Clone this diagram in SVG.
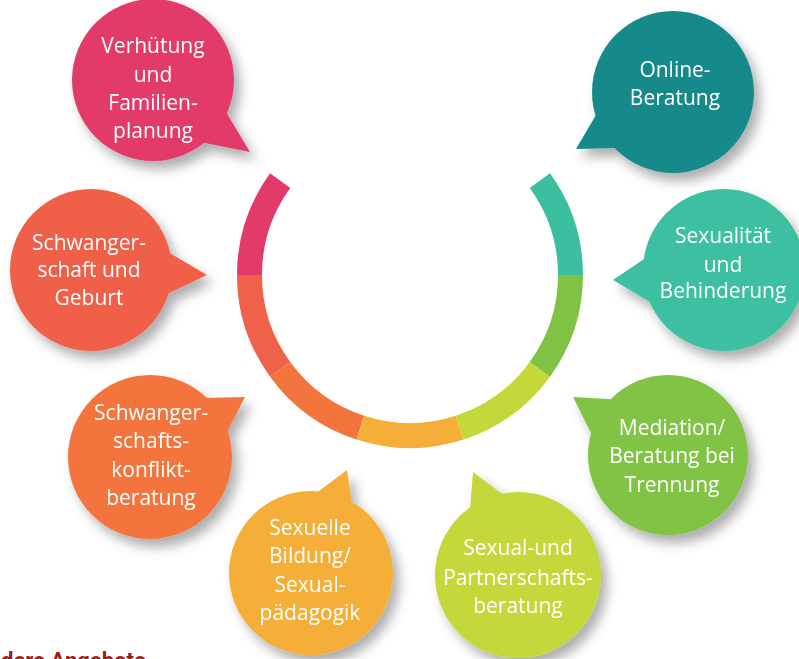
<svg xmlns="http://www.w3.org/2000/svg" width="799" height="659" viewBox="0 0 799 659">
<defs>
<filter id="sh" x="-30%" y="-30%" width="160%" height="160%">
<feDropShadow dx="6" dy="8" stdDeviation="6" flood-color="#000" flood-opacity="0.32"/>
</filter>
</defs>
<style>
.seg{fill:none;stroke-width:25;stroke-linecap:butt}
.b{filter:url(#sh)}
.t{font-family:"Open Sans","Noto Sans",sans-serif;font-size:21px;fill:#fff;text-anchor:middle}
.foot{font-family:Roboto,"Liberation Sans",sans-serif;font-weight:bold;font-size:22px;fill:#9B1B1E}
</style>
<rect width="799" height="659" fill="#fff"/>
<g id="ring">
<path class="seg" stroke="#E33B69" d="M249.5 275 A160.5 160.5 0 0 1 280.15 180.66"/>
<path class="seg" stroke="#F06149" d="M280.15 369.34 A160.5 160.5 0 0 1 249.5 275"/>
<path class="seg" stroke="#F3753E" d="M360.4 427.65 A160.5 160.5 0 0 1 280.15 369.34"/>
<path class="seg" stroke="#F5AF39" d="M459.6 427.65 A160.5 160.5 0 0 1 360.4 427.65"/>
<path class="seg" stroke="#C4D83A" d="M539.85 369.34 A160.5 160.5 0 0 1 459.6 427.65"/>
<path class="seg" stroke="#80C344" d="M570.5 275 A160.5 160.5 0 0 1 539.85 369.34"/>
<path class="seg" stroke="#3CBFA1" d="M539.85 180.66 A160.5 160.5 0 0 1 570.5 275"/>
</g>
<g id="connectors"></g>
<g id="n1" class="b" fill="#E33B69">
<circle cx="153" cy="80" r="81"/>
<polygon points="226,112 250,152 200,142"/>
<text class="t" x="153" y="53">Verhütung</text>
<text class="t" x="153" y="82">und</text>
<text class="t" x="153" y="110">Familien-</text>
<text class="t" x="153" y="138">planung</text>
</g>
<g id="n2" class="b" fill="#18898A">
<circle cx="673" cy="92" r="81"/>
<polygon points="596,115 576,149 615,148"/>
<text class="t" x="675" y="77">Online-</text>
<text class="t" x="675" y="105">Beratung</text>
</g>
<g id="n3" class="b" fill="#F06149">
<circle cx="91" cy="270" r="81"/>
<polygon points="168,252 207,275 165,295"/>
<text class="t" x="89" y="250">Schwanger-</text>
<text class="t" x="89" y="277">schaft und</text>
<text class="t" x="89" y="305">Geburt</text>
</g>
<g id="n4" class="b" fill="#3CBFA1">
<circle cx="724" cy="270" r="81"/>
<polygon points="650,255 613,280 655,305"/>
<text class="t" x="723" y="243">Sexualität</text>
<text class="t" x="723" y="272">und</text>
<text class="t" x="723" y="298">Behinderung</text>
</g>
<g id="n5" class="b" fill="#F3753E">
<circle cx="150" cy="457" r="82"/>
<polygon points="203,398 245,397 226,434"/>
<text class="t" x="151" y="420">Schwanger-</text>
<text class="t" x="151" y="448">schafts-</text>
<text class="t" x="151" y="477">konflikt-</text>
<text class="t" x="151" y="505">beratung</text>
</g>
<g id="n6" class="b" fill="#F5AF39">
<circle cx="311" cy="573" r="82"/>
<polygon points="315,494 347,470 352,505"/>
<text class="t" x="310" y="535">Sexuelle</text>
<text class="t" x="310" y="563">Bildung/</text>
<text class="t" x="310" y="592">Sexual-</text>
<text class="t" x="310" y="620">pädagogik</text>
</g>
<g id="n7" class="b" fill="#C4D83A">
<circle cx="518" cy="575" r="83"/>
<polygon points="470,510 473,472 505,496"/>
<text class="t" x="518" y="555">Sexual-und</text>
<text class="t" x="518" y="585">Partnerschafts-</text>
<text class="t" x="518" y="613">beratung</text>
</g>
<g id="n8" class="b" fill="#80C344">
<circle cx="668" cy="455" r="80"/>
<polygon points="625,400 573,397 592,435"/>
<text class="t" x="672" y="435">Mediation/</text>
<text class="t" x="672" y="463">Beratung bei</text>
<text class="t" x="672" y="492">Trennung</text>
</g>
<text class="foot" x="1" y="668">dere Angebote</text>
</svg>
